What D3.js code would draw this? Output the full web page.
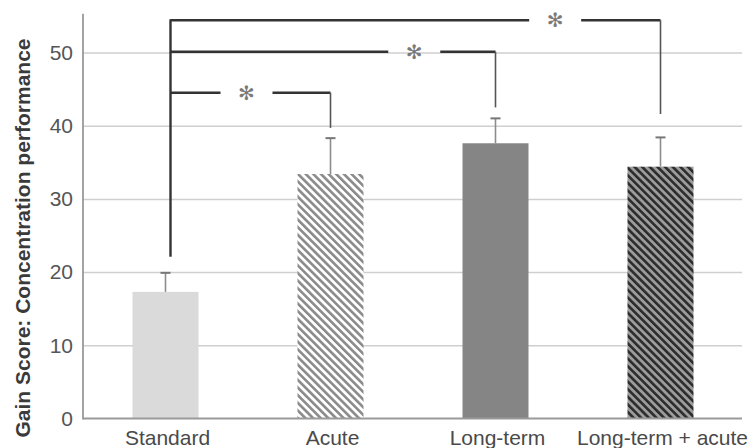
<!DOCTYPE html>
<html>
<head>
<meta charset="utf-8">
<script src="https://cdn.jsdelivr.net/npm/d3@7"></script>
<style>
html,body{margin:0;padding:0;background:#fff;}
svg{display:block;font-family:"Liberation Sans",Arial,sans-serif;}
</style>
</head>
<body>
<svg id="chart" width="753" height="448"></svg>
<script>
// ---- data ----
const categories = ["Standard", "Acute", "Long-term", "Long-term + acute"];
const means = [17.3, 33.4, 37.6, 34.4];
const errorTops = [19.9, 38.3, 41.0, 38.4];
const yTicks = [0, 10, 20, 30, 40, 50];
const yTitle = "Gain Score: Concentration performance";
// significance brackets: from category 0 to target, horizontal level, drop end, star position (fraction along bracket)
const bracketTargets = [1, 2, 3];
const bracketLevels = [44.5, 50.1, 54.4];
const bracketDropEnds = [39.7, 42.5, 41.6];
const bracketStarAt = [0.475, 0.75, 0.785];
const bracketStart = 22.1;
const starLabel = "✻";

// ---- layout ----
const svg = d3.select("#chart");
const left = 83, right = 743, yBase = 418.5;
const x = d3.scaleBand().domain(categories).range([left, right]).padding(0);
const y = d3.scaleLinear().domain([0, 50]).range([yBase, 52.5]);
const barW = x.bandwidth() * 0.4;
const cx = c => x(c) + x.bandwidth() / 2;

// patterns
const defs = svg.append("defs");
function hatch(id, bg, fg) {
  const p = defs.append("pattern").attr("id", id)
    .attr("patternUnits", "userSpaceOnUse")
    .attr("width", 5.4).attr("height", 10)
    .attr("patternTransform", "rotate(-45)");
  p.append("rect").attr("width", 5.4).attr("height", 10).attr("fill", bg);
  p.append("rect").attr("width", 2.6).attr("height", 10).attr("fill", fg);
}
hatch("hatchLight", "#ffffff", "#8a8a8a");
hatch("hatchDark", "#9c9c9c", "#2b2b2b");
const fills = ["#dadada", "url(#hatchLight)", "#858585", "url(#hatchDark)"];

// gridlines
svg.append("g").attr("transform", `translate(${left},0)`)
  .call(d3.axisLeft(y).tickValues(yTicks.filter(d => d > 0)).tickSize(-(right - left - 1)).tickFormat(""))
  .call(g => g.select(".domain").remove())
  .call(g => g.selectAll("line").attr("stroke", "#cfcfcf").attr("stroke-width", 1.5));

// tick labels
svg.append("g").attr("transform", `translate(${left},0)`)
  .call(d3.axisLeft(y).tickValues(yTicks).tickSize(0).tickPadding(10))
  .call(g => g.select(".domain").remove())
  .call(g => g.selectAll("text").attr("font-size", 21).attr("fill", "#555")
    .attr("font-family", "'Liberation Sans', Arial, sans-serif"));

// bars
svg.append("g").selectAll("rect").data(categories).join("rect")
  .attr("x", d => cx(d) - barW / 2)
  .attr("width", barW)
  .attr("y", (d, i) => y(means[i]))
  .attr("height", (d, i) => y(0) - y(means[i]))
  .attr("fill", (d, i) => fills[i]);

// error bars (upper only)
const eg = svg.append("g");
eg.selectAll("line.stem").data(categories).join("line").attr("class", "stem")
  .attr("x1", d => cx(d)).attr("x2", d => cx(d))
  .attr("y1", (d, i) => y(means[i])).attr("y2", (d, i) => y(errorTops[i]))
  .attr("stroke", "#8c8c8c").attr("stroke-width", 1.6);
eg.selectAll("line.cap").data(categories).join("line").attr("class", "cap")
  .attr("x1", d => cx(d) - 5).attr("x2", d => cx(d) + 5)
  .attr("y1", (d, i) => y(errorTops[i])).attr("y2", (d, i) => y(errorTops[i]))
  .attr("stroke", "#777").attr("stroke-width", 2);

// axes lines
svg.append("line").attr("x1", left).attr("x2", left).attr("y1", y(55.3)).attr("y2", yBase + 1)
  .attr("stroke", "#9a9a9a").attr("stroke-width", 1.8);
svg.append("line").attr("x1", left).attr("x2", right - 1).attr("y1", yBase).attr("y2", yBase)
  .attr("stroke", "#9a9a9a").attr("stroke-width", 1.8);

// x labels
svg.append("g").selectAll("text").data(categories).join("text")
  .attr("x", d => cx(d) + 2).attr("y", 445)
  .attr("text-anchor", "middle").attr("font-size", 21).attr("fill", "#4a4a4a")
  .text(d => d);

// y title
svg.append("text").attr("transform", "translate(30,238) rotate(-90)")
  .attr("text-anchor", "middle").attr("font-size", 21).attr("font-weight", "bold")
  .attr("fill", "#3a3a3a").text(yTitle);

// brackets
const bx0 = cx(categories[0]) + 5;
const bg = svg.append("g");
bg.append("line").attr("x1", bx0).attr("x2", bx0)
  .attr("y1", y(bracketStart)).attr("y2", y(d3.max(bracketLevels)) - 1)
  .attr("stroke", "#333").attr("stroke-width", 2.4);
bracketTargets.forEach((t, i) => {
  const x1 = cx(categories[t]);
  const yy = y(bracketLevels[i]);
  const sx = bx0 + (x1 - bx0) * bracketStarAt[i];
  const gap = 26;
  bg.append("path")
    .attr("d", `M${bx0},${yy}H${sx - gap}`)
    .attr("fill", "none").attr("stroke", "#333").attr("stroke-width", 2.6);
  bg.append("path")
    .attr("d", `M${sx + gap},${yy}H${x1}`)
    .attr("fill", "none").attr("stroke", "#333").attr("stroke-width", 2.6);
  bg.append("line").attr("x1", x1).attr("x2", x1).attr("y1", yy).attr("y2", y(bracketDropEnds[i]))
    .attr("stroke", "#555").attr("stroke-width", 1.6);
  bg.append("text").attr("x", sx).attr("y", yy).attr("dy", "0.36em")
    .attr("text-anchor", "middle").attr("font-size", 20)
    .attr("font-family", "'DejaVu Sans', sans-serif")
    .attr("fill", "#7a7a7a").text(starLabel);
});
</script>
</body>
</html>
